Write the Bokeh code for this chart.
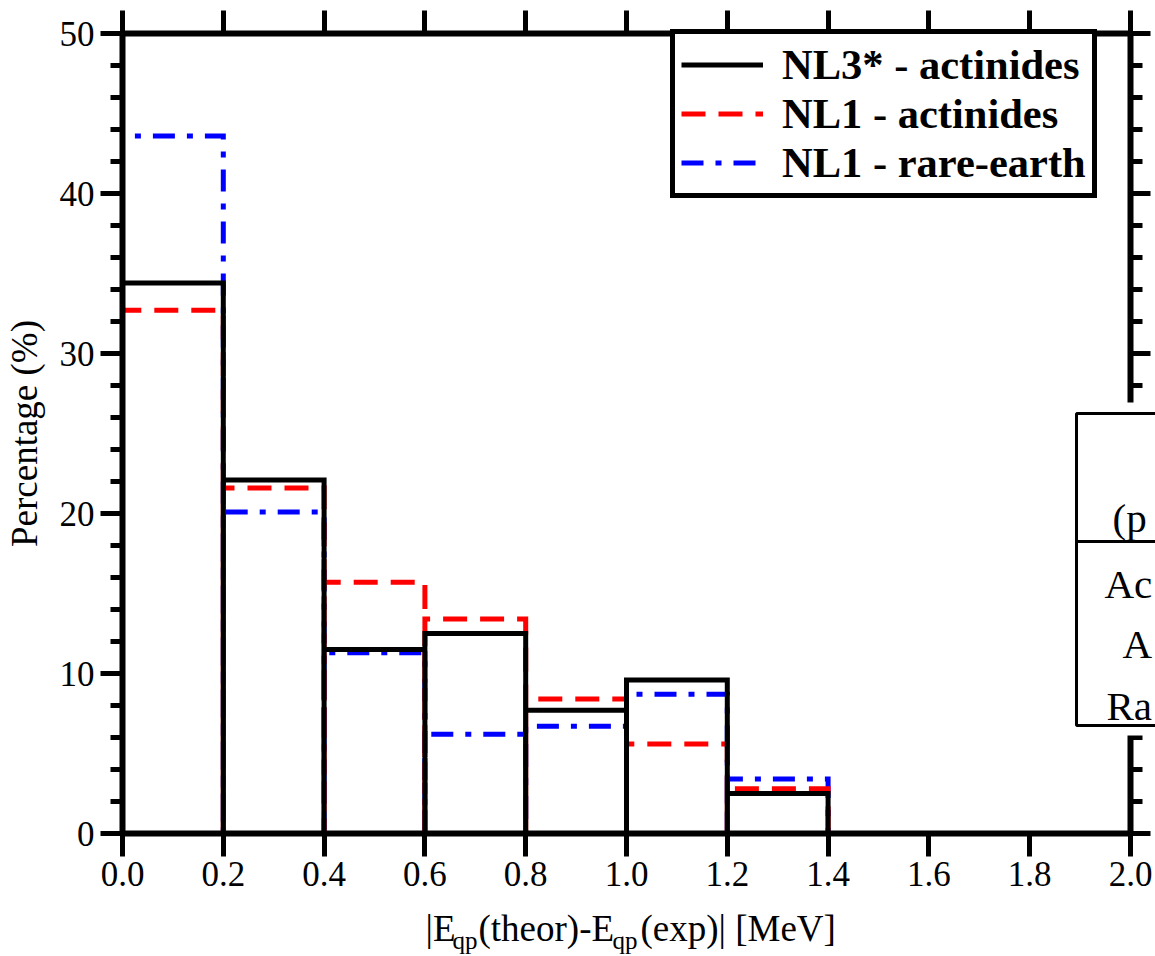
from bokeh.plotting import figure
from bokeh.models import (Range1d, LinearAxis, FixedTicker, Legend, LegendItem,
                          Label, BoxAnnotation, PrintfTickFormatter, CustomJSTickFormatter)
from bokeh.embed import file_html
from bokeh.resources import INLINE

# ---------------- data ----------------
bin_left = [0.0, 0.2, 0.4, 0.6, 0.8, 1.0, 1.2]
bin_right = [0.2, 0.4, 0.6, 0.8, 1.0, 1.2, 1.4]
nl3_actinides = [34.4, 22.1, 11.5, 12.5, 7.7, 9.6, 2.5]
nl1_actinides = [32.7, 21.6, 15.7, 13.4, 8.4, 5.6, 2.8]
nl1_rare_earth = [43.6, 20.1, 11.3, 6.2, 6.7, 8.7, 3.4]
series_names = ["NL3* - actinides", "NL1 - actinides", "NL1 - rare-earth"]
x_ticks = [0.0, 0.2, 0.4, 0.6, 0.8, 1.0, 1.2, 1.4, 1.6, 1.8, 2.0]
y_ticks = [0, 10, 20, 30, 40, 50]
y_minor = [2, 4, 6, 8, 12, 14, 16, 18, 22, 24, 26, 28, 32, 34, 36, 38, 42, 44, 46, 48]
y_label = "Percentage (%)"
x_label_parts = ["|E", "qp", "(theor)-E", "qp", "(exp)| [MeV]"]
table_texts = ["(p", "Ac", "A", "Ra"]

SERIF = "Liberation Serif"
W, H = 1155, 956
# pixel placement of the data box inside the canvas
FX0, FX1, FY0, FY1 = 122, 1130, 833, 33
XPU = (FX1 - FX0) / 2.0      # pixels per x unit
YPU = (FY0 - FY1) / 50.0     # pixels per y unit


def sx(px):
    return (px - FX0) / XPU


def sy(py):
    return (FY0 - py) / YPU


def outline(lefts, rights, heights):
    xs, ys = [], []
    for l, r, h in zip(lefts, rights, heights):
        xs += [l, l, r, r]
        ys += [0, h, h, 0]
    return xs, ys


p = figure(width=W, height=H, output_backend="svg", toolbar_location=None,
           x_range=Range1d(sx(0), sx(W)), y_range=Range1d(sy(H), sy(0)),
           min_border=0, min_border_left=0, min_border_right=0,
           min_border_top=0, min_border_bottom=0,
           x_axis_location=None, y_axis_location=None)
p.grid.visible = False
p.outline_line_color = None
p.background_fill_color = "white"
p.border_fill_color = "white"

xt = FixedTicker(ticks=x_ticks, minor_ticks=[])
yt = FixedTicker(ticks=y_ticks, minor_ticks=y_minor)


def style_axis(ax, tick_out, minor_out, labels):
    ax.axis_line_width = 6
    ax.axis_line_color = "black"
    ax.major_tick_line_width = 5
    ax.minor_tick_line_width = 5
    ax.major_tick_line_color = "black"
    ax.minor_tick_line_color = "black"
    ax.major_tick_out = tick_out
    ax.major_tick_in = 0
    ax.minor_tick_out = minor_out
    ax.minor_tick_in = 0
    if labels:
        ax.major_label_text_font = SERIF
        ax.major_label_text_font_size = "35px"
        ax.major_label_text_color = "black"
    else:
        ax.major_label_text_font_size = "1px"
        ax.major_label_text_alpha = 0
        ax.major_label_standoff = 0


bottom = LinearAxis(ticker=xt, formatter=PrintfTickFormatter(format="%.1f"),
                    fixed_location=0, bounds=(0, 2.0))
style_axis(bottom, 23, 0, True)
bottom.major_label_standoff = 5
p.add_layout(bottom, "below")

top = LinearAxis(ticker=xt, formatter=CustomJSTickFormatter(code="return ''"),
                 fixed_location=50, bounds=(0, 2.0))
style_axis(top, 23, 0, False)
p.add_layout(top, "above")

left = LinearAxis(ticker=yt, fixed_location=0, bounds=(0, 50))
style_axis(left, 22, 12, True)
left.major_label_standoff = 6
left.axis_label = y_label
left.axis_label_text_font = SERIF
left.axis_label_text_font_size = "37px"
left.axis_label_text_font_style = "normal"
left.axis_label_text_color = "black"
left.axis_label_standoff = 12
p.add_layout(left, "left")

right = LinearAxis(ticker=yt, formatter=CustomJSTickFormatter(code="return ''"),
                   fixed_location=2.0, bounds=(0, 50))
style_axis(right, 20, 12, False)
p.add_layout(right, "right")

# ---------------- histograms ----------------
xs, ys = outline(bin_left, bin_right, nl1_rare_earth)
r_blue = p.line(xs, ys, line_color="#0000FF", line_width=5, line_dash="22 12 6 12",
                line_join="miter")
xs, ys = outline(bin_left, bin_right, nl1_actinides)
r_red = p.line(xs, ys, line_color="#FF0000", line_width=5, line_dash="24 13",
               line_join="miter")
xs, ys = outline(bin_left, bin_right, nl3_actinides)
r_black = p.line(xs, ys, line_color="black", line_width=5, line_join="miter")

legend = Legend(items=[LegendItem(label=series_names[0], renderers=[r_black]),
                       LegendItem(label=series_names[1], renderers=[r_red]),
                       LegendItem(label=series_names[2], renderers=[r_blue])],
                location=(670, H - 198))
legend.label_text_font = SERIF
legend.label_text_font_size = "42.5px"
legend.label_text_font_style = "bold"
legend.label_text_color = "black"
legend.label_text_line_height = 1.0
legend.label_height = 45
legend.glyph_height = 45
legend.glyph_width = 82
legend.label_standoff = 19
legend.spacing = 0
legend.padding = 6
legend.margin = 0
legend.border_line_color = "black"
legend.border_line_alpha = 1
legend.border_line_width = 5
legend.background_fill_color = "white"
legend.background_fill_alpha = 1
p.add_layout(legend)

# ---------------- x axis label with subscripts ----------------
main_size = "37px"
sub_size = "25px"
part_px = [425, 452, 478, 612, 640]
for txt, px in zip(x_label_parts, part_px):
    is_sub = txt == "qp"
    p.add_layout(Label(x=sx(px), y=sy(940 if is_sub else 928), text=txt,
                       text_font=SERIF, text_font_size=sub_size if is_sub else main_size,
                       text_color="black", text_align="left", text_baseline="alphabetic"))

# ---------------- partially visible table at right ----------------
p.add_layout(BoxAnnotation(left=sx(1070), right=sx(1200), top=sy(402), bottom=sy(735),
                           fill_color="white", fill_alpha=1, line_color=None))
p.add_layout(BoxAnnotation(left=sx(1076), right=sx(1200), top=sy(413), bottom=sy(725),
                           fill_color="white", fill_alpha=1, line_color="black",
                           line_alpha=1, line_width=3))
p.add_layout(BoxAnnotation(left=sx(1076), right=sx(1200), top=sy(539.5), bottom=sy(542.5),
                           fill_color="black", fill_alpha=1, line_color=None))
table_pos = [(1112, 517), (1104, 583), (1122, 643), (1106, 705)]
for txt, (px, py) in zip(table_texts, table_pos):
    p.add_layout(Label(x=sx(px), y=sy(py), text=txt, text_font=SERIF, text_font_size="41px",
                       text_color="black", text_align="left", text_baseline="alphabetic"))

open("out.html", "w").write(file_html(p, INLINE))
